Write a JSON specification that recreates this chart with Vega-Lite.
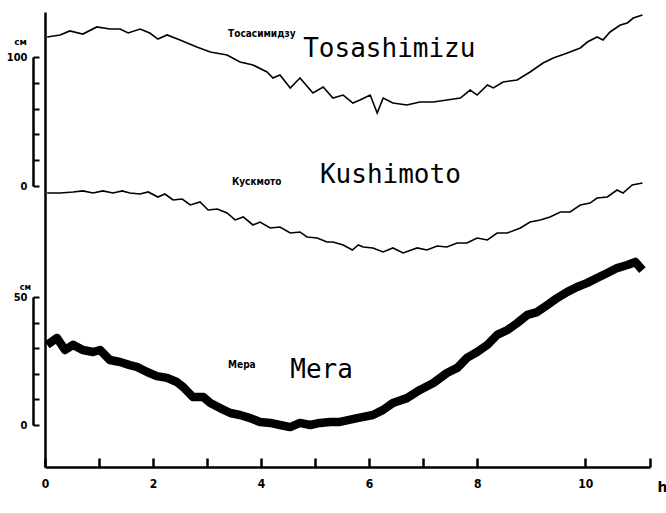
{
  "$schema": "https://vega.github.io/schema/vega-lite/v6.json",
  "width": 605,
  "height": 455,
  "autosize": {"type": "none"},
  "padding": {"left": 45, "top": 12, "right": 16, "bottom": 46},
  "background": "white",
  "config": {"view": {"stroke": null}},
  "datasets": {
    "tosa": [
      {"h":0.04,"cm":115.5},{"h":0.28,"cm":117.1},{"h":0.46,"cm":120.2},{"h":0.70,"cm":117.8},{"h":0.96,"cm":123.3},
      {"h":1.20,"cm":121.7},{"h":1.39,"cm":121.7},{"h":1.54,"cm":118.6},{"h":1.76,"cm":121.7},{"h":1.94,"cm":118.6},
      {"h":2.09,"cm":113.9},{"h":2.26,"cm":117.1},{"h":2.50,"cm":113.2},{"h":2.81,"cm":107.8},{"h":3.06,"cm":103.9},
      {"h":3.37,"cm":101.6},{"h":3.61,"cm":96.1},{"h":3.85,"cm":93.8},{"h":4.11,"cm":88.4},{"h":4.22,"cm":83.7},
      {"h":4.35,"cm":86.0},{"h":4.54,"cm":76.0},{"h":4.72,"cm":83.7},{"h":4.96,"cm":72.1},{"h":5.15,"cm":76.7},
      {"h":5.33,"cm":68.2},{"h":5.52,"cm":70.5},{"h":5.70,"cm":64.3},{"h":5.83,"cm":66.7},{"h":6.02,"cm":70.5},
      {"h":6.15,"cm":56.6},{"h":6.26,"cm":68.2},{"h":6.44,"cm":64.3},{"h":6.70,"cm":62.8},{"h":6.94,"cm":65.1},
      {"h":7.19,"cm":65.1},{"h":7.44,"cm":66.7},{"h":7.69,"cm":68.2},{"h":7.87,"cm":74.4},{"h":8.00,"cm":70.5},
      {"h":8.19,"cm":78.3},{"h":8.30,"cm":76.0},{"h":8.48,"cm":80.6},{"h":8.74,"cm":82.2},{"h":8.98,"cm":88.4},
      {"h":9.22,"cm":95.3},{"h":9.41,"cm":99.2},{"h":9.67,"cm":103.1},{"h":9.91,"cm":107.0},{"h":10.04,"cm":111.6},
      {"h":10.22,"cm":115.5},{"h":10.33,"cm":113.2},{"h":10.46,"cm":119.4},{"h":10.65,"cm":124.8},{"h":10.78,"cm":126.4},
      {"h":10.89,"cm":130.2},{"h":11.06,"cm":132.6}
    ],
    "kushi": [
      {"h":0.04,"cm":0},{"h":0.28,"cm":0},{"h":0.52,"cm":0.8},{"h":0.70,"cm":1.6},{"h":0.89,"cm":0},
      {"h":1.07,"cm":1.6},{"h":1.26,"cm":0},{"h":1.43,"cm":1.6},{"h":1.57,"cm":0},{"h":1.76,"cm":-0.8},
      {"h":1.91,"cm":0.8},{"h":2.09,"cm":-3.1},{"h":2.22,"cm":-0.8},{"h":2.37,"cm":-5.4},{"h":2.54,"cm":-4.7},
      {"h":2.69,"cm":-9.3},{"h":2.87,"cm":-7.0},{"h":3.02,"cm":-13.2},{"h":3.19,"cm":-12.4},{"h":3.37,"cm":-15.5},
      {"h":3.52,"cm":-20.9},{"h":3.67,"cm":-18.6},{"h":3.85,"cm":-24.8},{"h":3.98,"cm":-22.5},{"h":4.17,"cm":-27.1},
      {"h":4.35,"cm":-26.4},{"h":4.54,"cm":-31.0},{"h":4.72,"cm":-30.2},{"h":4.85,"cm":-34.1},{"h":5.04,"cm":-34.9},
      {"h":5.22,"cm":-38.0},{"h":5.33,"cm":-38.0},{"h":5.52,"cm":-40.3},{"h":5.69,"cm":-44.2},{"h":5.80,"cm":-40.3},
      {"h":5.89,"cm":-41.9},{"h":6.07,"cm":-42.6},{"h":6.26,"cm":-45.7},{"h":6.44,"cm":-42.6},{"h":6.63,"cm":-46.5},
      {"h":6.89,"cm":-42.6},{"h":7.07,"cm":-44.2},{"h":7.26,"cm":-41.1},{"h":7.44,"cm":-41.9},{"h":7.63,"cm":-38.8},
      {"h":7.81,"cm":-38.8},{"h":8.00,"cm":-34.9},{"h":8.19,"cm":-36.4},{"h":8.37,"cm":-31.0},{"h":8.56,"cm":-31.0},
      {"h":8.80,"cm":-27.1},{"h":8.98,"cm":-22.5},{"h":9.17,"cm":-20.9},{"h":9.35,"cm":-18.6},{"h":9.54,"cm":-14.7},
      {"h":9.72,"cm":-14.7},{"h":9.91,"cm":-9.3},{"h":10.09,"cm":-7.8},{"h":10.22,"cm":-3.9},{"h":10.41,"cm":-3.1},
      {"h":10.59,"cm":2.3},{"h":10.70,"cm":0},{"h":10.87,"cm":6.2},{"h":11.06,"cm":7.8}
    ],
    "mera": [
      {"h":0.04,"cm":31.3},{"h":0.22,"cm":34.0},{"h":0.37,"cm":29.3},{"h":0.52,"cm":31.3},{"h":0.70,"cm":29.3},
      {"h":0.89,"cm":28.5},{"h":1.02,"cm":29.3},{"h":1.20,"cm":25.4},{"h":1.39,"cm":24.6},{"h":1.57,"cm":23.4},
      {"h":1.70,"cm":22.7},{"h":1.89,"cm":20.7},{"h":2.07,"cm":19.1},{"h":2.26,"cm":18.4},{"h":2.44,"cm":16.8},
      {"h":2.56,"cm":14.8},{"h":2.74,"cm":10.9},{"h":2.93,"cm":10.9},{"h":3.06,"cm":8.6},{"h":3.24,"cm":6.6},
      {"h":3.43,"cm":4.7},{"h":3.61,"cm":3.9},{"h":3.80,"cm":2.7},{"h":3.98,"cm":1.2},{"h":4.17,"cm":0.8},
      {"h":4.35,"cm":0.0},{"h":4.54,"cm":-0.8},{"h":4.72,"cm":0.8},{"h":4.91,"cm":0.0},{"h":5.09,"cm":0.8},
      {"h":5.28,"cm":1.2},{"h":5.46,"cm":1.2},{"h":5.78,"cm":2.7},{"h":6.07,"cm":3.9},{"h":6.26,"cm":5.9},
      {"h":6.44,"cm":8.6},{"h":6.70,"cm":10.5},{"h":6.94,"cm":13.7},{"h":7.19,"cm":16.4},{"h":7.44,"cm":20.3},
      {"h":7.63,"cm":22.3},{"h":7.81,"cm":26.2},{"h":8.00,"cm":28.5},{"h":8.19,"cm":31.3},{"h":8.37,"cm":35.2},
      {"h":8.56,"cm":37.1},{"h":8.74,"cm":39.8},{"h":8.93,"cm":43.0},{"h":9.11,"cm":44.1},{"h":9.30,"cm":46.9},
      {"h":9.48,"cm":49.6},{"h":9.67,"cm":52.0},{"h":9.85,"cm":53.9},{"h":10.04,"cm":55.5},{"h":10.22,"cm":57.4},
      {"h":10.41,"cm":59.4},{"h":10.59,"cm":61.3},{"h":10.78,"cm":62.5},{"h":10.93,"cm":63.7},{"h":11.06,"cm":60.5}
    ]
  },
  "encoding": {
    "x": {
      "field": "h", "type": "quantitative",
      "scale": {"domain": [0, 11.2], "nice": false, "zero": false},
      "axis": {
        "values": [0,1,2,3,4,5,6,7,8,10,11.2],
        "labelExpr": "(datum.value % 2 == 0 && datum.value <= 10) ? datum.label : ''",
        "labelFlush": false, "labelOverlap": false,
        "grid": false, "domain": true, "ticks": true,
        "tickSize": -9, "tickWidth": 2.5, "tickColor": "black",
        "domainColor": "black", "domainWidth": 2.5,
        "labelPadding": 20,
        "labelFont": "DejaVu Sans Condensed, Liberation Sans Narrow, DejaVu Sans",
        "labelFontSize": 12, "labelFontWeight": "bold", "labelColor": "black",
        "title": "h", "titleX": 612, "titleY": 24, "titleAlign": "left", "titleAnchor": null,
        "titleBaseline": "alphabetic", "titleFontSize": 14, "titleFontWeight": "bold",
        "titleFont": "DejaVu Sans", "titleColor": "black"
      }
    }
  },
  "resolve": {"scale": {"y": "independent"}, "axis": {"y": "independent"}},
  "layer": [
    {
      "encoding": {
        "y": {
          "field": "cm", "type": "quantitative",
          "scale": {"domain": [-212.4, 140.3], "nice": false, "zero": false},
          "axis": {"orient": "left", "offset": 0, "ticks": false, "labels": false, "title": null, "grid": false, "domain": true, "domainColor": "black", "domainWidth": 2.5}
        }
      },
      "layer": [
        {"data": {"name": "kushi"}, "mark": {"type": "line", "color": "black", "strokeWidth": 1.6}},
        {"data": {"values": [{"h": 5.09, "cm": 7.8, "t": "Kushimoto"}]},
         "mark": {"type": "text", "align": "left", "baseline": "alphabetic", "font": "DejaVu Sans Mono", "fontSize": 26, "color": "black"},
         "encoding": {"text": {"field": "t"}}},
        {"data": {"values": [{"h": 3.46, "cm": 6.2, "t": "Кускмото"}]},
         "mark": {"type": "text", "align": "left", "baseline": "alphabetic", "font": "DejaVu Sans Condensed, DejaVu Sans", "fontWeight": "bold", "fontSize": 10, "color": "black"},
         "encoding": {"text": {"field": "t"}}}
      ]
    },
    {
      "encoding": {
        "y": {
          "field": "cm", "type": "quantitative",
          "scale": {"domain": [0, 100], "range": [174, 45], "nice": false, "zero": false},
          "axis": {
            "orient": "left", "offset": 12, "values": [0,20,40,60,80,100],
            "labelExpr": "(datum.value == 0 || datum.value == 100) ? datum.label : ''",
            "grid": false, "domain": true, "ticks": true,
            "tickSize": -6, "tickWidth": 2, "tickColor": "black",
            "domainColor": "black", "domainWidth": 2.5, "labelPadding": 12,
            "labelFont": "DejaVu Sans Condensed, Liberation Sans Narrow, DejaVu Sans",
            "labelFontSize": 11, "labelFontWeight": "bold", "labelColor": "black",
            "labelOverlap": false, "labelFlush": false,
            "title": "см", "titleAngle": 0, "titleX": -13, "titleY": 32, "titleAlign": "center",
            "titleBaseline": "alphabetic", "titleFontSize": 9, "titleFontWeight": "bold",
            "titleFont": "DejaVu Sans", "titleColor": "black"
          }
        }
      },
      "layer": [
        {"data": {"name": "tosa"}, "mark": {"type": "line", "color": "black", "strokeWidth": 1.6}},
        {"data": {"values": [{"h": 4.78, "cm": 100, "t": "Tosashimizu"}]},
         "mark": {"type": "text", "align": "left", "baseline": "alphabetic", "font": "DejaVu Sans Mono", "fontSize": 26, "color": "black"},
         "encoding": {"text": {"field": "t"}}},
        {"data": {"values": [{"h": 3.39, "cm": 115.5, "t": "Тосасимидзу"}]},
         "mark": {"type": "text", "align": "left", "baseline": "alphabetic", "font": "DejaVu Sans Condensed, DejaVu Sans", "fontWeight": "bold", "fontSize": 10, "color": "black"},
         "encoding": {"text": {"field": "t"}}}
      ]
    },
    {
      "encoding": {
        "y": {
          "field": "cm", "type": "quantitative",
          "scale": {"domain": [0, 50], "range": [413, 285], "nice": false, "zero": false},
          "axis": {
            "orient": "left", "offset": 12, "values": [0,10,20,30,40,50],
            "labelExpr": "(datum.value == 0 || datum.value == 50) ? datum.label : ''",
            "grid": false, "domain": true, "ticks": true,
            "tickSize": -6, "tickWidth": 2, "tickColor": "black",
            "domainColor": "black", "domainWidth": 2.5, "labelPadding": 12,
            "labelFont": "DejaVu Sans Condensed, Liberation Sans Narrow, DejaVu Sans",
            "labelFontSize": 11, "labelFontWeight": "bold", "labelColor": "black",
            "labelOverlap": false, "labelFlush": false,
            "title": "см", "titleAngle": 0, "titleX": -8, "titleY": 277, "titleAlign": "center",
            "titleBaseline": "alphabetic", "titleFontSize": 8, "titleFontWeight": "bold",
            "titleFont": "DejaVu Sans", "titleColor": "black"
          }
        }
      },
      "layer": [
        {"data": {"name": "mera"}, "mark": {"type": "line", "color": "black", "strokeWidth": 8.5, "strokeJoin": "round"}},
        {"data": {"values": [{"h": 4.54, "cm": 18.4, "t": "Mera"}]},
         "mark": {"type": "text", "align": "left", "baseline": "alphabetic", "font": "DejaVu Sans Mono", "fontSize": 26, "color": "black"},
         "encoding": {"text": {"field": "t"}}},
        {"data": {"values": [{"h": 3.39, "cm": 22.3, "t": "Мера"}]},
         "mark": {"type": "text", "align": "left", "baseline": "alphabetic", "font": "DejaVu Sans Condensed, DejaVu Sans", "fontWeight": "bold", "fontSize": 10, "color": "black"},
         "encoding": {"text": {"field": "t"}}}
      ]
    }
  ]
}
